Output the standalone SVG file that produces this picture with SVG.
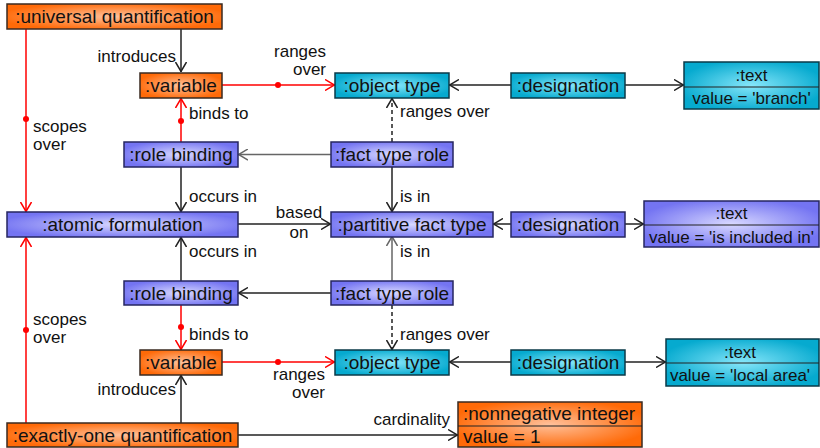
<svg xmlns="http://www.w3.org/2000/svg" width="820" height="448" viewBox="0 0 820 448">
<defs>
<radialGradient id="gO" cx="50%" cy="50%" r="55%"><stop offset="0" stop-color="#FFC09A"/><stop offset="1" stop-color="#FF6A08"/></radialGradient>
<radialGradient id="gC" cx="50%" cy="50%" r="55%"><stop offset="0" stop-color="#86E6FA"/><stop offset="1" stop-color="#06AACF"/></radialGradient>
<radialGradient id="gB" cx="50%" cy="50%" r="55%"><stop offset="0" stop-color="#D8D8FF"/><stop offset="1" stop-color="#7474F2"/></radialGradient>
<marker id="aK" viewBox="0 0 10 12" refX="10" refY="6" markerWidth="10" markerHeight="12" markerUnits="userSpaceOnUse" orient="auto"><path d="M0,0.5 L9.5,6 L0,11.5" fill="none" stroke="#222" stroke-width="1.5"/></marker>
<marker id="aG" viewBox="0 0 10 12" refX="10" refY="6" markerWidth="10" markerHeight="12" markerUnits="userSpaceOnUse" orient="auto"><path d="M0,0.5 L9.5,6 L0,11.5" fill="none" stroke="#666" stroke-width="1.5"/></marker>
<marker id="aR" viewBox="0 0 10 12" refX="10" refY="6" markerWidth="10" markerHeight="12" markerUnits="userSpaceOnUse" orient="auto"><path d="M0,0.5 L9.5,6 L0,11.5" fill="none" stroke="#F00" stroke-width="1.5"/></marker>
</defs>
<style>
text{font-family:"Liberation Sans",Arial,sans-serif;fill:#111}
.n{font-size:19px;text-anchor:middle}
.nl{font-size:19px}
.v{font-size:17px;text-anchor:middle}
.l{font-size:17px}
.e{font-size:17px;text-anchor:end}
.m{font-size:17px;text-anchor:middle}
.o{fill:url(#gO);stroke:#3a2a20;stroke-width:1.5}
.c{fill:url(#gC);stroke:#0a3a48;stroke-width:1.5}
.b{fill:url(#gB);stroke:#262660;stroke-width:1.5}
.k{fill:none;stroke:#222;stroke-width:1.5;marker-end:url(#aK)}
.g{fill:none;stroke:#666;stroke-width:1.5;marker-end:url(#aG)}
.d{fill:none;stroke:#222;stroke-width:1.5;stroke-dasharray:4 3;marker-end:url(#aK)}
.r{fill:none;stroke:#F00;stroke-width:1.5;marker-end:url(#aR)}
.dot{fill:#F00}
.dv{stroke:#222;stroke-width:1.2}
</style>
<g id="connectors">
<path class="k" d="M181,29 V72"/>
<path class="r" d="M222,85 H335"/><circle class="dot" cx="278" cy="85" r="3"/>
<path class="r" d="M26,29 V212"/><circle class="dot" cx="26" cy="119" r="3"/>
<path class="r" d="M181,142 V98"/><circle class="dot" cx="181" cy="121" r="3"/>
<path class="d" d="M392,142 V98"/>
<path class="k" d="M511,85 H449"/>
<path class="k" d="M625,85 H684"/>
<path class="g" d="M331,154.5 H238"/>
<path class="k" d="M181,167 V212"/>
<path class="k" d="M392,167 V212"/>
<path class="k" d="M238,224 H331"/>
<path class="k" d="M511,224 H493"/>
<path class="k" d="M625,224 H644"/>
<path class="k" d="M181,281 V237"/>
<path class="g" d="M392,281 V236"/>
<path class="k" d="M331,293 H238"/>
<path class="r" d="M181,305 V350"/><circle class="dot" cx="181" cy="327" r="3"/>
<path class="d" d="M392,305 V350"/>
<path class="r" d="M222,362 H335"/><circle class="dot" cx="278" cy="362" r="3"/>
<path class="k" d="M511,362 H449"/>
<path class="k" d="M625,362 H666"/>
<path class="k" d="M181,423 V375"/>
<path class="r" d="M26,423 V237"/><circle class="dot" cx="26" cy="330" r="3"/>
<path class="k" d="M238,435 H458"/>
<text class="e" x="176" y="62">introduces</text>
<text class="e" x="326" y="57">ranges</text>
<text class="e" x="326" y="75">over</text>
<text class="l" x="33" y="132">scopes</text>
<text class="l" x="33" y="150">over</text>
<text class="l" x="189" y="119">binds to</text>
<text class="l" x="400" y="117">ranges over</text>
<text class="l" x="189" y="202">occurs in</text>
<text class="l" x="400" y="202">is in</text>
<text class="m" x="299" y="218">based</text>
<text class="m" x="299" y="238">on</text>
<text class="l" x="189" y="257">occurs in</text>
<text class="l" x="400" y="257">is in</text>
<text class="l" x="33" y="325">scopes</text>
<text class="l" x="33" y="343">over</text>
<text class="l" x="189" y="340">binds to</text>
<text class="l" x="400" y="340">ranges over</text>
<text class="e" x="325" y="380">ranges</text>
<text class="e" x="325" y="398">over</text>
<text class="e" x="176" y="395">introduces</text>
<text class="e" x="450" y="425">cardinality</text>
</g>
<g id="universal-quantification"><rect class="o" x="7" y="4" width="215" height="25"/><text class="n" x="114.5" y="23">:universal quantification</text></g>
<g id="variable-1"><rect class="o" x="140" y="73" width="82" height="25"/><text class="n" x="181" y="92">:variable</text></g>
<g id="object-type-1"><rect class="c" x="335" y="73" width="114" height="25"/><text class="n" x="392" y="92">:object type</text></g>
<g id="designation-1"><rect class="c" x="511" y="73" width="114" height="25"/><text class="n" x="568" y="92">:designation</text></g>
<g id="text-1"><rect class="c" x="684" y="62" width="135" height="47"/><line class="dv" x1="684" y1="87" x2="819" y2="87"/><text class="v" x="751.5" y="81">:text</text><text class="v" x="751.5" y="104">value = 'branch'</text></g>
<g id="role-binding-1"><rect class="b" x="124" y="142" width="114" height="25"/><text class="n" x="181" y="161">:role binding</text></g>
<g id="fact-type-role-1"><rect class="b" x="331" y="142" width="122" height="25"/><text class="n" x="392" y="161">:fact type role</text></g>
<g id="atomic-formulation"><rect class="b" x="7" y="212" width="231" height="25"/><text class="n" x="122.5" y="231">:atomic formulation</text></g>
<g id="partitive-fact-type"><rect class="b" x="331" y="212" width="162" height="25"/><text class="n" x="412" y="231">:partitive fact type</text></g>
<g id="designation-2"><rect class="b" x="511" y="212" width="114" height="25"/><text class="n" x="568" y="231">:designation</text></g>
<g id="text-2"><rect class="b" x="644" y="201" width="175" height="46"/><line class="dv" x1="644" y1="225" x2="819" y2="225"/><text class="v" x="731.5" y="219">:text</text><text class="v" x="731.5" y="243">value = 'is included in'</text></g>
<g id="role-binding-2"><rect class="b" x="124" y="281" width="114" height="24"/><text class="n" x="181" y="300">:role binding</text></g>
<g id="fact-type-role-2"><rect class="b" x="331" y="281" width="122" height="24"/><text class="n" x="392" y="300">:fact type role</text></g>
<g id="variable-2"><rect class="o" x="140" y="350" width="82" height="25"/><text class="n" x="181" y="369">:variable</text></g>
<g id="object-type-2"><rect class="c" x="335" y="350" width="114" height="25"/><text class="n" x="392" y="369">:object type</text></g>
<g id="designation-3"><rect class="c" x="511" y="350" width="114" height="25"/><text class="n" x="568" y="369">:designation</text></g>
<g id="text-3"><rect class="c" x="666" y="339" width="153" height="47"/><line class="dv" x1="666" y1="363" x2="819" y2="363"/><text class="v" x="740" y="358">:text</text><text class="v" x="740" y="381">value = 'local area'</text></g>
<g id="exactly-one-quantification"><rect class="o" x="7" y="423" width="231" height="24"/><text class="n" x="122.5" y="442">:exactly-one quantification</text></g>
<g id="nonnegative-integer"><rect class="o" x="458" y="402" width="184" height="45"/><line class="dv" x1="458" y1="426" x2="642" y2="426"/><text class="nl" x="463" y="420">:nonnegative integer</text><text class="nl" x="463" y="443">value = 1</text></g>
</svg>
